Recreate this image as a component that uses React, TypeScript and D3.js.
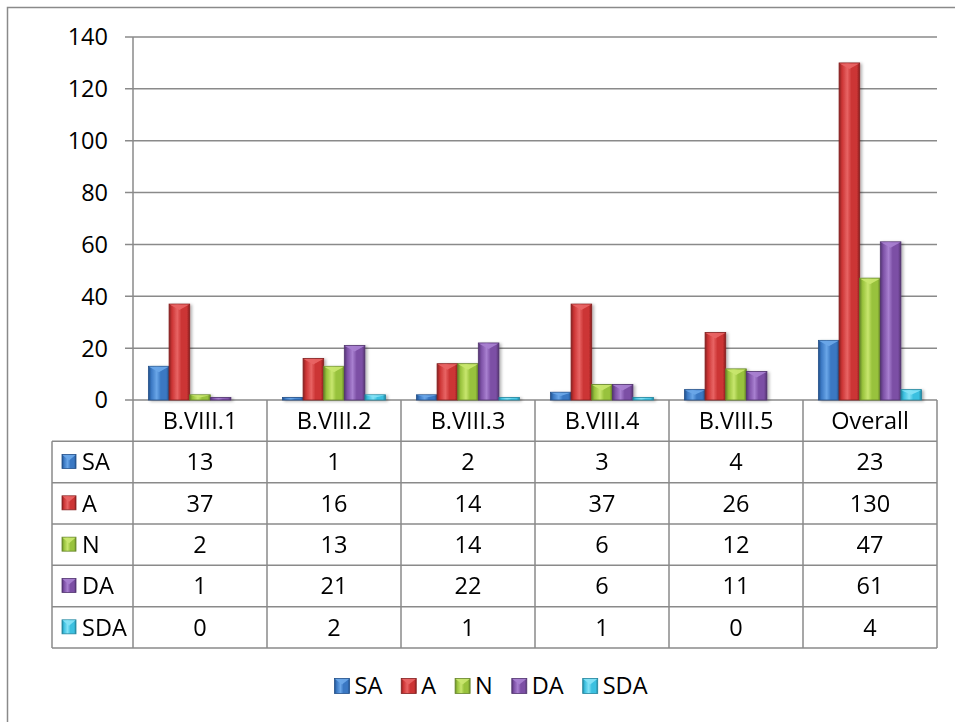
import React from "react";
import * as d3 from "d3";

const categories = ["B.VIII.1", "B.VIII.2", "B.VIII.3", "B.VIII.4", "B.VIII.5", "Overall"];
const seriesNames = ["SA", "A", "N", "DA", "SDA"];
const saValues = [13, 1, 2, 3, 4, 23];
const aValues = [37, 16, 14, 37, 26, 130];
const nValues = [2, 13, 14, 6, 12, 47];
const daValues = [1, 21, 22, 6, 11, 61];
const sdaValues = [0, 2, 1, 1, 0, 4];
const yTicks = [0, 20, 40, 60, 80, 100, 120, 140];

const seriesValues = [saValues, aValues, nValues, daValues, sdaValues];

const palette = [
  { base: "#3a78c3", light: "#6aa6e8", dark: "#22508a" },
  { base: "#cc3434", light: "#e86464", dark: "#862020" },
  { base: "#98c23c", light: "#c8e66e", dark: "#66862a" },
  { base: "#7c4fa5", light: "#a880d0", dark: "#523470" },
  { base: "#3bc0e0", light: "#84e2f6", dark: "#22869e" },
];

const W = 955;
const H = 722;
const FONT = "'Open Sans', 'Liberation Sans', sans-serif";
const FS = 23.5;
const GRID = "#8a8a8a";

const plotLeft = 133;
const plotRight = 937;
const plotTop = 37;
const plotBottom = 400;
const tableBottom = 648;
const tableLeft = 52;

function textWidth(t: string, size: number) {
  const c = document.createElement("canvas");
  const ctx = c.getContext("2d")!;
  ctx.font = `${size}px 'Open Sans'`;
  return ctx.measureText(t).width;
}

function BevelBlock({ x, y, w, h, i }: { x: number; y: number; w: number; h: number; i: number }) {
  const col = palette[i];
  const cap = Math.min(6, h * 0.5);
  return (
    <g>
      <rect x={x} y={y} width={w} height={h} fill={`url(#barGrad${i})`} stroke={col.dark} strokeWidth={0.8} />
      {h > 2.5 && (
        <polygon
          points={`${x + 0.5},${y + 0.5} ${x + w - 0.5},${y + 0.5} ${x + w / 2},${y + cap}`}
          fill={col.light}
          opacity={0.95}
        />
      )}
    </g>
  );
}

export default function App() {
  const y = d3.scaleLinear().domain([0, 140]).range([plotBottom, plotTop]);
  const x0 = d3.scaleBand<string>().domain(categories).range([plotLeft, plotRight]);
  const x1 = d3
    .scaleBand<string>()
    .domain(seriesNames)
    .range([0, x0.bandwidth()])
    .paddingInner(0)
    .paddingOuter(0.75);
  const rows = d3
    .scaleBand<string>()
    .domain(["header", ...seriesNames])
    .range([plotBottom, tableBottom]);

  // bottom legend layout
  const iconSize = 15;
  const legendItems: { name: string; x: number; i: number }[] = [];
  let cursor = 0;
  seriesNames.forEach((name, i) => {
    legendItems.push({ name, x: cursor, i });
    cursor += iconSize + 5 + textWidth(name, FS) + (i < seriesNames.length - 1 ? 19 : 0);
  });
  const legendStart = 491 - cursor / 2;
  const legendY = 686;

  return (
    <svg width={W} height={H} style={{ position: "absolute", left: 0, top: 0, background: "#fff" }} fontFamily={FONT}>
      <defs>
        {palette.map((c, i) => (
          <linearGradient key={i} id={`barGrad${i}`} x1="0" x2="1" y1="0" y2="0">
            <stop offset="0%" stopColor={c.dark} />
            <stop offset="14%" stopColor={c.base} />
            <stop offset="40%" stopColor={c.light} stopOpacity={1} />
            <stop offset="60%" stopColor={c.base} />
            <stop offset="86%" stopColor={c.base} />
            <stop offset="100%" stopColor={c.dark} />
          </linearGradient>
        ))}
        <filter id="barShadow" x="-20%" y="-5%" width="150%" height="115%">
          <feDropShadow dx={2} dy={1} stdDeviation={1.5} floodColor="#000" floodOpacity={0.3} />
        </filter>
      </defs>

      {/* chart frame */}
      <rect x={7.5} y={7.5} width={1000} height={800} fill="#fff" stroke={GRID} strokeWidth={1.5} />

      {/* gridlines and y tick labels */}
      {yTicks.map((t) => (
        <g key={t}>
          <line x1={125} x2={plotRight} y1={y(t)} y2={y(t)} stroke={GRID} strokeWidth={1.5} />
          <text x={108} y={y(t)} dy="0.36em" textAnchor="end" fontSize={FS} fill="#000">
            {t}
          </text>
        </g>
      ))}

      {/* bars */}
      <g filter="url(#barShadow)">
        {categories.map((cat, ci) =>
          seriesNames.map((s, si) => {
            const v = seriesValues[si][ci];
            if (v <= 0) return null;
            const bx = x0(cat)! + x1(s)!;
            const top = y(v);
            return <BevelBlock key={`${cat}-${s}`} x={bx} y={top} w={x1.bandwidth()} h={plotBottom - top} i={si} />;
          })
        )}
      </g>

      {/* data table */}
      <g stroke={GRID} strokeWidth={1.5}>
        <line x1={plotLeft} x2={plotLeft} y1={plotTop} y2={tableBottom} />
        {categories.map((cat) => (
          <line key={cat} x1={x0(cat)! + x0.bandwidth()} x2={x0(cat)! + x0.bandwidth()} y1={plotBottom} y2={tableBottom} />
        ))}
        {seriesNames.map((s) => (
          <line key={s} x1={tableLeft} x2={plotRight} y1={rows(s)!} y2={rows(s)!} />
        ))}
        <line x1={tableLeft} x2={plotRight} y1={tableBottom} y2={tableBottom} />
        <line x1={tableLeft} x2={tableLeft} y1={rows("SA")!} y2={tableBottom} />
      </g>

      {categories.map((cat) => (
        <text
          key={cat}
          x={x0(cat)! + x0.bandwidth() / 2}
          y={rows("header")! + rows.bandwidth() / 2}
          dy="0.36em"
          textAnchor="middle"
          fontSize={FS}
        >
          {cat}
        </text>
      ))}

      {seriesNames.map((s, si) => (
        <g key={s}>
          <BevelBlock x={62} y={rows(s)! + rows.bandwidth() / 2 - 7.5} w={14} h={14} i={si} />
          <text x={82} y={rows(s)! + rows.bandwidth() / 2} dy="0.36em" fontSize={FS}>
            {s}
          </text>
          {categories.map((cat, ci) => (
            <text
              key={cat}
              x={x0(cat)! + x0.bandwidth() / 2}
              y={rows(s)! + rows.bandwidth() / 2}
              dy="0.36em"
              textAnchor="middle"
              fontSize={FS}
            >
              {seriesValues[si][ci]}
            </text>
          ))}
        </g>
      ))}

      {/* legend */}
      {legendItems.map((it) => (
        <g key={it.name} transform={`translate(${legendStart + it.x},0)`}>
          <BevelBlock x={0} y={legendY - 7.5} w={iconSize} h={iconSize} i={it.i} />
          <text x={iconSize + 5} y={legendY} dy="0.36em" fontSize={FS}>
            {it.name}
          </text>
        </g>
      ))}
    </svg>
  );
}
